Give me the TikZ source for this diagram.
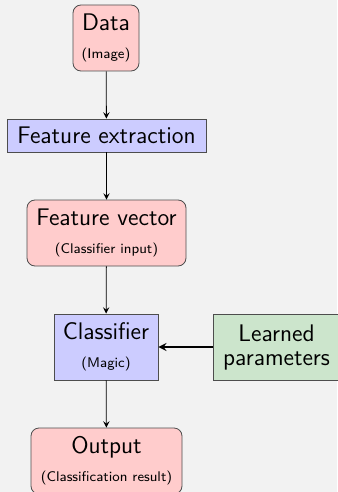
\documentclass[tikz,border=0pt]{standalone}
\usepackage{tikz}
\usetikzlibrary{arrows}

\definecolor{pagebg}{HTML}{F2F2F2}
\definecolor{framegray}{HTML}{4D4D4D}

\begin{document}
\begin{tikzpicture}[x=0.5pt, y=-0.5pt, font=\sffamily]
%% the whole picture is laid out in half-point units, y grows downwards
\tikzstyle{arc}=[->,>=stealth,thin]
\tikzstyle{paramArc}=[->,>=stealth,thick]
\tikzstyle{every box}=[draw=framegray,align=center,inner sep=2pt,minimum height=33pt]
\tikzstyle{databox}=[every box,fill=red!20,rounded corners=4pt]
\tikzstyle{stagebox}=[every box,fill=blue!20]
\tikzstyle{learnbox}=[every box,fill=green!50!black!20]
\newcommand{\mainlbl}[1]{{\fontsize{12}{14}\selectfont #1}}
\newcommand{\sublbl}[1]{{\fontsize{7}{14}\selectfont #1}}
%% background and page size
\fill[pagebg] (0,0) rectangle (337,492);
\useasboundingbox (0,0) rectangle (337,492);
%% TikZ-figure elements %%
\node[databox, minimum width=33pt] at (106,38) (Data) {\mainlbl{Data}\\[2pt]\sublbl{(Image)}};
\node[stagebox, minimum width=99.5pt, minimum height=16.5pt] at (106.5,135.5) (Extraction) {\mainlbl{Feature extraction}};
\node[databox, minimum width=79.5pt] at (106.5,233) (Vector) {\mainlbl{Feature vector}\\[2pt]\sublbl{(Classifier input)}};
\node[stagebox, minimum width=52pt] at (106,347) (Classifier) {\mainlbl{Classifier}\\[2pt]\sublbl{(Magic)}};
\node[learnbox, minimum width=63.5pt] at (276.5,347) (Params) {\mainlbl{Learned}\\\mainlbl{parameters}};
\node[databox, minimum width=75.5pt] at (106.5,461) (Output) {\mainlbl{Output}\\[2pt]\sublbl{(Classification result)}};
%% arcs between the stages
\draw[arc] (Data) -- (Extraction);
\draw[arc] (Extraction) -- (Vector);
\draw[arc] (Vector) -- (Classifier);
\draw[arc] (Classifier) -- (Output);
\draw[paramArc] (Params) -- (Classifier);
\end{tikzpicture}
\end{document}
